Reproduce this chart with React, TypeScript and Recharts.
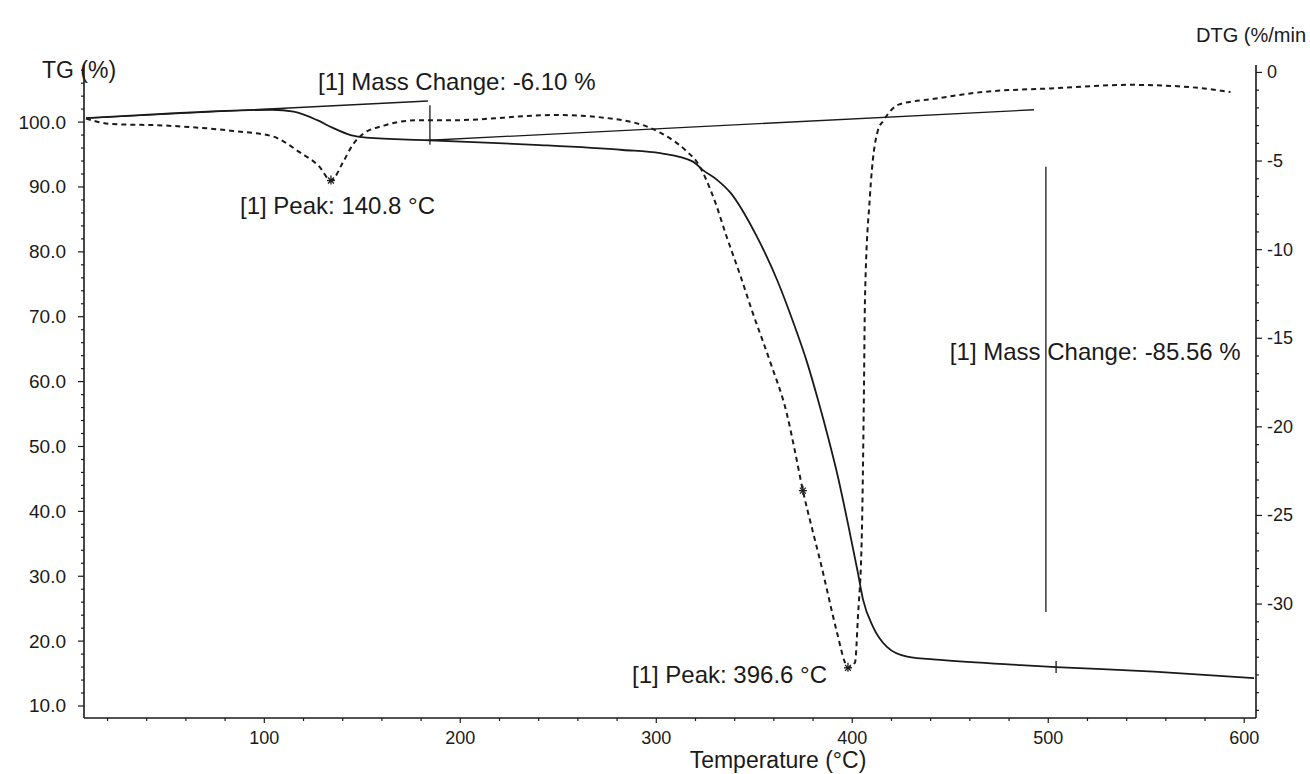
import { LineChart, Line, XAxis, YAxis, ReferenceLine, ReferenceDot } from "recharts";

// TG curve (solid)
const tgTemps = [9, 50, 104, 115, 127, 135, 144, 152, 184, 238, 283, 302, 318.7, 323.8, 331, 337.6, 351.4, 361.6, 369.7, 376.9, 382.5, 387.6, 392.7, 397.8, 402.9, 405.5, 410.6, 417.7, 428, 445, 486, 504, 554, 605];
const tgMass = [100.6, 101.3, 101.9, 101.6, 100.3, 99.1, 98.0, 97.6, 97.2, 96.5, 95.7, 95.2, 93.9, 92.6, 91.1, 89.2, 82.3, 75.7, 69.3, 63.0, 57.2, 51.5, 45.3, 38.1, 30.5, 26.4, 22.2, 19.1, 17.6, 17.1, 16.3, 16.0, 15.3, 14.3];

// DTG curve (dashed)
const dtgTemps = [9, 21, 50, 84, 104, 118, 128, 134, 140, 145, 150, 161, 178, 195, 249, 283, 302, 315, 321, 329, 336, 343, 349, 358, 366.7, 370.8, 374.8, 379.4, 383.5, 392.2, 396.3, 397.8, 401.4, 402.9, 404.9, 405.9, 406.5, 409, 413, 416, 424, 441, 467, 501, 542, 569, 593];
const dtgRate = [-2.6, -2.9, -3.0, -3.3, -3.6, -4.5, -5.3, -6.1, -5.1, -4.1, -3.5, -3.0, -2.7, -2.7, -2.4, -2.7, -3.4, -4.4, -5.1, -7.0, -9.3, -11.5, -13.5, -16.3, -19.3, -21.4, -23.6, -25.7, -27.5, -31.6, -33.3, -33.6, -33.3, -30.7, -26.0, -18.5, -12.7, -7.0, -3.3, -2.7, -1.8, -1.5, -1.1, -0.9, -0.7, -0.8, -1.1];

const xMajor = [100, 200, 300, 400, 500, 600];
const tgMajor = [10, 20, 30, 40, 50, 60, 70, 80, 90, 100];
const dtgMajor = [0, -5, -10, -15, -20, -25, -30];

const xTicks = Array.from({ length: 30 }, (_, i) => 20 + i * 20);
const tgTicks = Array.from({ length: 50 }, (_, i) => 10 + i * 2);
const dtgTicks = Array.from({ length: 37 }, (_, i) => -i);

const tgData = tgTemps.map((t, i) => ({ t, tg: tgMass[i] }));
const dtgData = dtgTemps.map((t, i) => ({ t, dtg: dtgRate[i] }));

const FONT = '"Liberation Sans", Arial, sans-serif';
const INK = "#1a1a1a";

function LeftTick({ x, y, payload }: any) {
  const major = tgMajor.includes(payload.value);
  return (
    <g>
      <line x1={x} x2={x - (major ? 6 : 3)} y1={y} y2={y} stroke={INK} strokeWidth={1.2} />
      {major && (
        <text x={x - 18} y={y} textAnchor="end" dominantBaseline="central" fontSize={19} fontFamily={FONT} fill={INK}>
          {payload.value.toFixed(1)}
        </text>
      )}
    </g>
  );
}

function RightTick({ x, y, payload }: any) {
  const major = dtgMajor.includes(payload.value);
  return (
    <g>
      <line x1={x} x2={x + (major ? 6 : 3)} y1={y} y2={y} stroke={INK} strokeWidth={1.2} />
      {major && (
        <text x={x + 11} y={y} textAnchor="start" dominantBaseline="central" fontSize={18} fontFamily={FONT} fill={INK}>
          {payload.value === 0 ? "0" : `-${Math.abs(payload.value)}`}
        </text>
      )}
    </g>
  );
}

function BottomTick({ x, y, payload }: any) {
  const major = xMajor.includes(payload.value);
  return (
    <g>
      <line x1={x} x2={x} y1={y} y2={y + (major ? 5 : 3)} stroke={INK} strokeWidth={1.2} />
      {major && (
        <text x={x} y={y + 20} textAnchor="middle" dominantBaseline="central" fontSize={18} fontFamily={FONT} fill={INK}>
          {payload.value}
        </text>
      )}
    </g>
  );
}

const note = (text: string) => (props: any) => (
  <text x={props.cx} y={props.cy} dominantBaseline="central" fontSize={24} fontFamily={FONT} fill={INK}>
    {text}
  </text>
);

const star = (props: any) => {
  const { cx, cy } = props;
  return (
    <g stroke={INK} strokeWidth={1.3}>
      <line x1={cx - 4} x2={cx + 4} y1={cy} y2={cy} />
      <line x1={cx} x2={cx} y1={cy - 5} y2={cy + 4} />
      <line x1={cx - 3} x2={cx + 3} y1={cy - 3} y2={cy + 3} />
      <line x1={cx - 3} x2={cx + 3} y1={cy + 3} y2={cy - 3} />
    </g>
  );
};

const vtick = (props: any) => (
  <line x1={props.cx} x2={props.cx} y1={props.cy - 6} y2={props.cy + 6} stroke={INK} strokeWidth={1.3} />
);

export default function App() {
  return (
    <div style={{ position: "fixed", left: 0, top: 0, width: 1310, height: 774, background: "#fff" }}>
      <LineChart width={1310} height={774} margin={{ top: 65, right: 4, bottom: 16, left: 14 }}>
        <XAxis
          xAxisId={0}
          type="number"
          dataKey="t"
          domain={[8, 606]}
          allowDataOverflow
          ticks={xTicks}
          interval={0}
          tick={<BottomTick />}
          tickSize={0}
          tickMargin={0}
          tickLine={false}
          height={40}
          axisLine={{ stroke: INK, strokeWidth: 1.6 }}
          label={{
            content: ({ viewBox }: any) => (
              <text x={viewBox.x + viewBox.width / 2 + 108} y={viewBox.y + 42} textAnchor="middle" dominantBaseline="central" fontSize={23} fontFamily={FONT} fill={INK}>
                Temperature (°C)
              </text>
            ),
          }}
        />
        <YAxis
          yAxisId="tg"
          orientation="left"
          type="number"
          domain={[8.15, 108.8]}
          allowDataOverflow
          ticks={tgTicks}
          interval={0}
          tick={<LeftTick />}
          tickSize={0}
          tickMargin={0}
          tickLine={false}
          width={70}
          axisLine={{ stroke: INK, strokeWidth: 1.6 }}
          label={{
            content: ({ viewBox }: any) => (
              <text x={viewBox.x + 28} y={viewBox.y + 5} dominantBaseline="central" fontSize={23} fontFamily={FONT} fill={INK}>
                TG (%)
              </text>
            ),
          }}
        />
        <YAxis
          yAxisId="dtg"
          orientation="right"
          type="number"
          domain={[-36.43, 0.42]}
          allowDataOverflow
          ticks={dtgTicks}
          interval={0}
          tick={<RightTick />}
          tickSize={0}
          tickMargin={0}
          tickLine={false}
          width={50}
          axisLine={{ stroke: INK, strokeWidth: 1.6 }}
          label={{
            content: ({ viewBox }: any) => (
              <text x={viewBox.x - 60} y={viewBox.y - 30} dominantBaseline="central" fontSize={20} fontFamily={FONT} fill={INK}>
                DTG (%/min
              </text>
            ),
          }}
        />

        <ReferenceLine yAxisId="tg" segment={[{ x: 9, y: 100.6 }, { x: 183.5, y: 103.25 }]} stroke={INK} strokeWidth={1.3} />
        <ReferenceLine yAxisId="tg" segment={[{ x: 184.5, y: 102.6 }, { x: 184.5, y: 96.5 }]} stroke={INK} strokeWidth={1.3} />
        <ReferenceLine yAxisId="tg" segment={[{ x: 184.5, y: 97.2 }, { x: 492.7, y: 101.9 }]} stroke={INK} strokeWidth={1.3} />
        <ReferenceLine yAxisId="tg" segment={[{ x: 498.8, y: 93.1 }, { x: 498.8, y: 24.5 }]} stroke={INK} strokeWidth={1.3} />

        <Line
          data={tgData}
          yAxisId="tg"
          dataKey="tg"
          type="monotone"
          stroke={INK}
          strokeWidth={1.8}
          dot={false}
          isAnimationActive={false}
        />
        <Line
          data={dtgData}
          yAxisId="dtg"
          dataKey="dtg"
          type="monotone"
          stroke={INK}
          strokeWidth={2}
          strokeDasharray="5 4"
          dot={false}
          isAnimationActive={false}
        />

        <ReferenceDot yAxisId="dtg" x={134} y={-6.1} r={0} shape={star} />
        <ReferenceDot yAxisId="dtg" x={397.8} y={-33.6} r={0} shape={star} />
        <ReferenceDot yAxisId="dtg" x={374.8} y={-23.6} r={0} shape={star} />
        <ReferenceDot yAxisId="tg" x={504} y={16.0} r={0} shape={vtick} />

        <ReferenceDot yAxisId="tg" x={127.4} y={106.2} r={0} shape={note("[1] Mass Change: -6.10 %")} />
        <ReferenceDot yAxisId="tg" x={87.6} y={87.2} r={0} shape={note("[1] Peak: 140.8 °C")} />
        <ReferenceDot yAxisId="tg" x={287.6} y={14.8} r={0} shape={note("[1] Peak: 396.6 °C")} />
        <ReferenceDot yAxisId="tg" x={449.8} y={64.6} r={0} shape={note("[1] Mass Change: -85.56 %")} />
      </LineChart>
    </div>
  );
}
